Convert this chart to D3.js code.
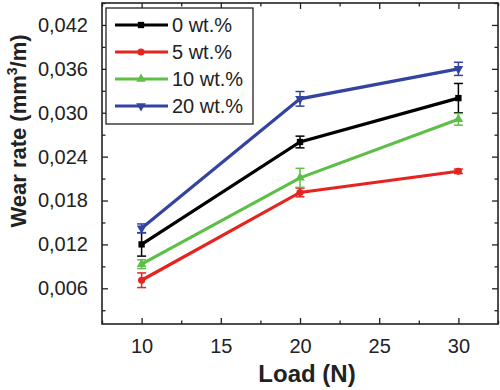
<!DOCTYPE html>
<html>
<head>
<meta charset="utf-8">
<script src="https://cdn.jsdelivr.net/npm/d3@7"></script>
<style>
  body { margin: 0; background: #fff; }
  svg { display: block; font-family: "Liberation Sans", Arial, sans-serif; }
</style>
</head>
<body>
<svg id="chart" width="500" height="390"></svg>
<script>
// data
const loads = [10, 20, 30];
const seriesNames = ['0 wt.%', '5 wt.%', '10 wt.%', '20 wt.%'];
const wear0 = [0.0120, 0.0260, 0.0320];
const wear5 = [0.0071, 0.0191, 0.0220];
const wear10 = [0.0093, 0.0211, 0.0291];
const wear20 = [0.0142, 0.0319, 0.0360];
const err0 = [0.0016, 0.0008, 0.0020];
const err5 = [0.0010, 0.0006, 0.0003];
const err10 = [0.0006, 0.0013, 0.0008];
const err20 = [0.0006, 0.0010, 0.0009];
const xTicks = [10, 15, 20, 25, 30];
const yTicks = [0.006, 0.012, 0.018, 0.024, 0.030, 0.036, 0.042];

const colors = ['#000000', '#e52420', '#5dbf47', '#3443a0'];
const symbols = [d3.symbolSquare, d3.symbolCircle, d3.symbolTriangle, d3.symbolTriangle];

const series = seriesNames.map((name, i) => ({
    name,
    values: [wear0, wear5, wear10, wear20][i],
    errs: [err0, err5, err10, err20][i],
    color: colors[i],
    symbol: symbols[i],
    flip: i === 3
}));

const svg = d3.select('#chart');
const plotL = 102, plotR = 498, plotT = 3, plotB = 324;

const x = d3.scaleLinear().domain([7.5, 32.5]).range([plotL, plotR]);
const y = d3.scaleLinear().domain([0.00112, 0.045]).range([plotB, plotT]);

const locale = d3.formatLocale({ decimal: ',', thousands: '.', grouping: [3], currency: ['', ''] });
const fmtY = locale.format('.3f');

// minor ticks
const xMinor = d3.range(7.5, 32.6, 2.5).filter(v => !xTicks.includes(v));
const yMinor = d3.range(0.003, 0.0451, 0.006);

svg.append('g').attr('transform', `translate(0,${plotB})`)
    .call(d3.axisBottom(x).tickValues(xTicks).tickSize(-6).tickPadding(15).tickFormat(d3.format('d')));
svg.append('g').attr('transform', `translate(${plotL},0)`)
    .call(d3.axisLeft(y).tickValues(yTicks).tickSize(-6).tickPadding(14).tickFormat(fmtY));
svg.append('g').attr('transform', `translate(0,${plotT})`)
    .call(d3.axisTop(x).tickValues(xTicks).tickSize(-6).tickFormat(''));
svg.append('g').attr('transform', `translate(${plotR},0)`)
    .call(d3.axisRight(y).tickValues(yTicks).tickSize(-6).tickFormat(''));

svg.append('g').attr('transform', `translate(0,${plotB})`)
    .call(d3.axisBottom(x).tickValues(xMinor).tickSize(-3.5).tickFormat(''));
svg.append('g').attr('transform', `translate(0,${plotT})`)
    .call(d3.axisTop(x).tickValues(xMinor).tickSize(-3.5).tickFormat(''));
svg.append('g').attr('transform', `translate(${plotL},0)`)
    .call(d3.axisLeft(y).tickValues(yMinor).tickSize(-3.5).tickFormat(''));
svg.append('g').attr('transform', `translate(${plotR},0)`)
    .call(d3.axisRight(y).tickValues(yMinor).tickSize(-3.5).tickFormat(''));

svg.selectAll('.domain').remove();
svg.selectAll('.tick line').attr('stroke', '#222').attr('stroke-width', 1.3);
svg.selectAll('.tick text').attr('font-size', 20).attr('fill', '#222');

// frame
svg.append('rect')
    .attr('x', plotL).attr('y', plotT)
    .attr('width', plotR - plotL).attr('height', plotB - plotT)
    .attr('fill', 'none').attr('stroke', '#222').attr('stroke-width', 1.6);

// series
const line = d3.line().x((d, i) => x(loads[i])).y(d => y(d));

series.forEach(s => {
    const g = svg.append('g');
    g.append('path')
        .datum(s.values)
        .attr('d', line)
        .attr('fill', 'none')
        .attr('stroke', s.color)
        .attr('stroke-width', 3.2);

    s.values.forEach((v, i) => {
        const cx = x(loads[i]);
        const e = s.errs[i];
        g.append('line')
            .attr('x1', cx).attr('x2', cx)
            .attr('y1', y(v - e)).attr('y2', y(v + e))
            .attr('stroke', s.color).attr('stroke-width', 1.5);
        [v - e, v + e].forEach(c => {
            g.append('line')
                .attr('x1', cx - 4.5).attr('x2', cx + 4.5)
                .attr('y1', y(c)).attr('y2', y(c))
                .attr('stroke', s.color).attr('stroke-width', 1.5);
        });
        g.append('path')
            .attr('d', d3.symbol().type(s.symbol).size(40)())
            .attr('transform', `translate(${cx},${y(v)})${s.flip ? ' rotate(180)' : ''}`)
            .attr('fill', s.color);
    });
});

// legend
const legend = svg.append('g');
legend.append('rect')
    .attr('x', 106).attr('y', 8)
    .attr('width', 147).attr('height', 116)
    .attr('fill', '#fff').attr('stroke', '#222').attr('stroke-width', 1.3);

series.forEach((s, i) => {
    const ly = 25 + i * 27;
    legend.append('line')
        .attr('x1', 115).attr('x2', 168)
        .attr('y1', ly).attr('y2', ly)
        .attr('stroke', s.color).attr('stroke-width', 3.2);
    legend.append('path')
        .attr('d', d3.symbol().type(s.symbol).size(40)())
        .attr('transform', `translate(141,${ly})${s.flip ? ' rotate(180)' : ''}`)
        .attr('fill', s.color);
    legend.append('text')
        .attr('x', 172).attr('y', ly)
        .attr('dy', '0.36em')
        .attr('font-size', 20)
        .attr('fill', '#222')
        .text(s.name);
});

// axis titles
svg.append('text')
    .attr('x', x(20) + 7).attr('y', 382)
    .attr('text-anchor', 'middle')
    .attr('font-size', 24).attr('font-weight', 'bold').attr('fill', '#222')
    .text('Load (N)');

const yt = svg.append('text')
    .attr('transform', 'translate(26,131) rotate(-90)')
    .attr('text-anchor', 'middle')
    .attr('font-size', 22).attr('font-weight', 'bold').attr('fill', '#222');
yt.append('tspan').text('Wear rate (mm');
yt.append('tspan').attr('font-size', 14).attr('dy', -9).text('3');
yt.append('tspan').attr('dy', 9).text('/m)');
</script>
</body>
</html>
